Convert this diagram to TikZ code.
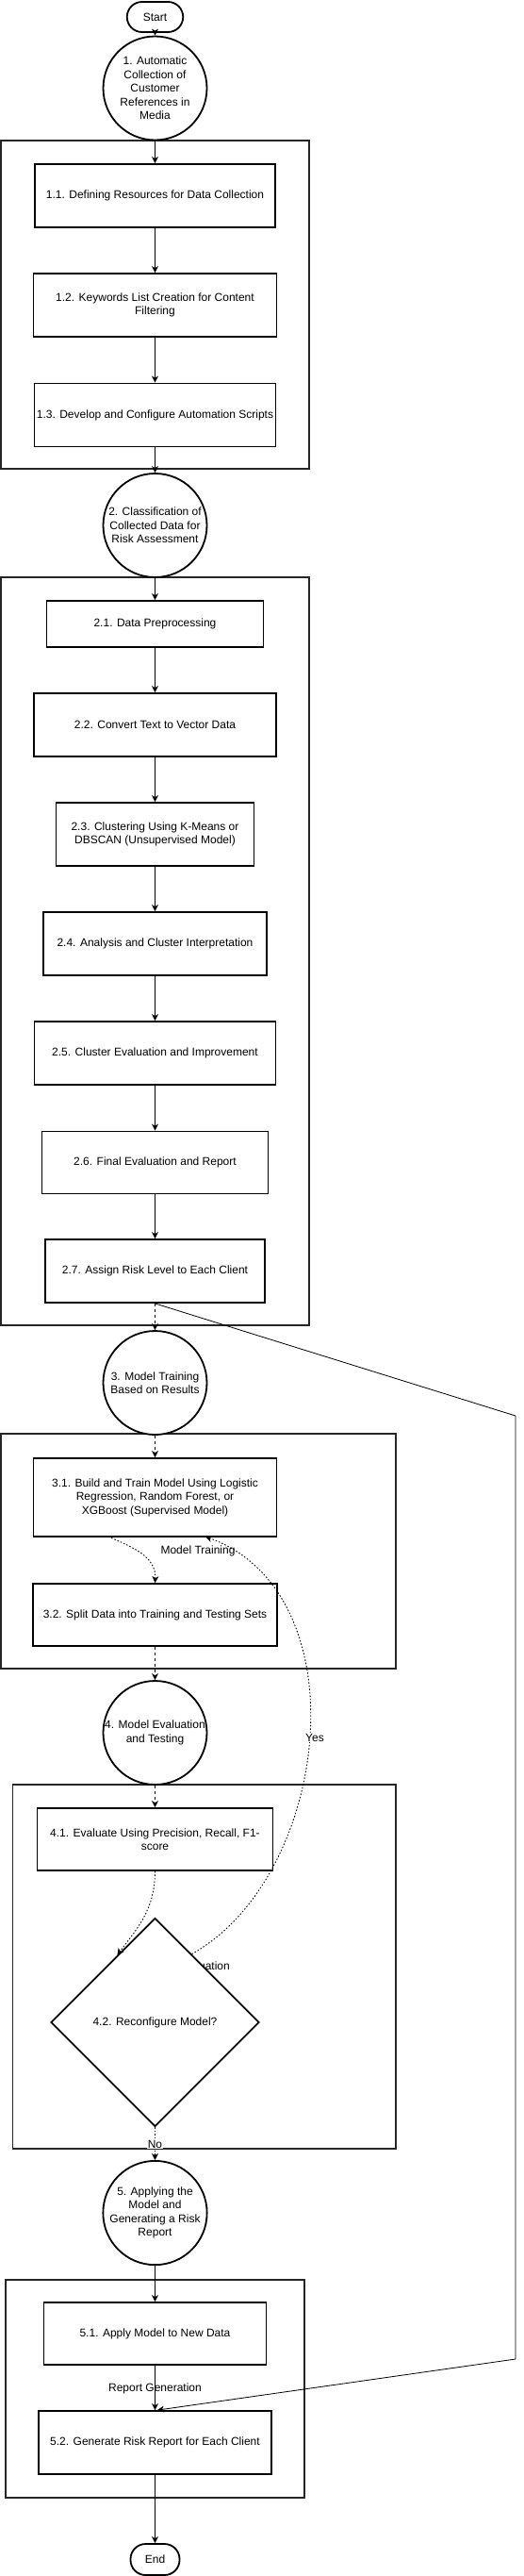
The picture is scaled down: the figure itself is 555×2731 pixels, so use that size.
\documentclass[tikz,border=0pt]{standalone}
\usepackage{fontspec}
\setmainfont{Liberation Sans}
\usetikzlibrary{shapes.geometric,arrows.meta,calc}
\begin{document}
\begin{tikzpicture}[x=1pt,y=-1pt,
  font=\fontsize{12}{14.4}\selectfont,
  box/.style={draw=black, line width=1.8pt, rectangle, align=center, inner sep=2pt, fill=white},
  grp/.style={draw=black!85, line width=1.8pt, rectangle, inner sep=0pt},
  circ/.style={draw=black, line width=1.8pt, circle, minimum size=110pt, inner sep=0pt, align=center, fill=white},
  term/.style={draw=black, line width=1.8pt, rectangle, rounded corners=16pt, align=center, inner sep=0pt, fill=white},
  conn/.style={line width=0.9pt, -{Stealth[length=7pt,width=7pt,inset=2pt]}},
  dsh/.style={conn, dash pattern=on 3pt off 3pt},
  dotc/.style={conn, dash pattern=on 1.5pt off 2pt},
  lbl/.style={inner sep=1pt, align=center}
]
\useasboundingbox (0,0) rectangle (555,2731);

% groups
\node[grp, minimum width=327pt, minimum height=348pt] (g1) at (164.5,323) {};
\node[grp, minimum width=327pt, minimum height=793pt] (g2) at (164.5,1008.5) {};
\node[grp, minimum width=419pt, minimum height=249pt] (g3) at (210.5,1644.5) {};
\node[grp, minimum width=406.5pt, minimum height=386pt] (g4) at (216.75,2085) {};
\node[grp, minimum width=317pt, minimum height=231pt] (g5) at (164.3,2532.5) {};

% terminals
\node[term, minimum width=59.5pt, minimum height=32pt] (start) at (164.5,18) {Start};
\node[term, minimum width=52pt, minimum height=33pt] (end) at (164.5,2713.5) {End};

% circles
\node[circ] (c1) at (164.5,93.5) {1. Automatic\\Collection of\\Customer\\References in\\Media};
\node[circ] (c2) at (164.5,557) {2. Classification of\\Collected Data for\\Risk Assessment};
\node[circ] (c3) at (164.5,1466) {3. Model Training\\Based on Results};
\node[circ] (c4) at (164.5,1837) {4. Model Evaluation\\and Testing};
\node[circ] (c5) at (164.5,2346) {5. Applying the\\Model and\\Generating a Risk\\Report};

% boxes
\node[box, minimum width=255pt, minimum height=67pt] (n11) at (164.5,207.5) {1.1. Defining Resources for Data Collection};
\node[box, minimum width=258pt, minimum height=67pt] (n12) at (164.5,323.5) {1.2. Keywords List Creation for Content\\Filtering};
\node[box, minimum width=256pt, minimum height=67pt] (n13) at (164.5,440) {1.3. Develop and Configure Automation Scripts};

\node[box, minimum width=230pt, minimum height=49pt] (n21) at (164.5,661.5) {2.1. Data Preprocessing};
\node[box, minimum width=257pt, minimum height=67pt] (n22) at (164.5,768.5) {2.2. Convert Text to Vector Data};
\node[box, minimum width=210pt, minimum height=67pt] (n23) at (164.5,884.5) {2.3. Clustering Using K-Means or\\DBSCAN (Unsupervised Model)};
\node[box, minimum width=237pt, minimum height=67pt] (n24) at (164.5,1000.5) {2.4. Analysis and Cluster Interpretation};
\node[box, minimum width=256pt, minimum height=67pt] (n25) at (164.5,1116.5) {2.5. Cluster Evaluation and Improvement};
\node[box, minimum width=240pt, minimum height=66pt] (n26) at (164.5,1232.5) {2.6. Final Evaluation and Report};
\node[box, minimum width=233pt, minimum height=67pt] (n27) at (164.5,1347.5) {2.7. Assign Risk Level to Each Client};

\node[box, minimum width=258pt, minimum height=83pt] (n31) at (164.5,1587.5) {3.1. Build and Train Model Using Logistic\\Regression, Random Forest, or\\XGBoost (Supervised Model)};
\node[box, minimum width=259pt, minimum height=66pt] (n32) at (164.5,1712) {3.2. Split Data into Training and Testing Sets};

\node[box, minimum width=250pt, minimum height=66pt] (n41) at (164.5,1950) {4.1. Evaluate Using Precision, Recall, F1-\\score};

\node[box, minimum width=236pt, minimum height=66pt] (n51) at (164.5,2474) {5.1. Apply Model to New Data};
\node[box, minimum width=247pt, minimum height=67pt] (n52) at (164.5,2589.5) {5.2. Generate Risk Report for Each Client};

% label hidden behind the diamond
\node[lbl, anchor=east] (levl) at (245,2084) {Model Evaluation};

% decision
\node[draw=black, line width=1.8pt, diamond, shape aspect=1, minimum width=221pt, minimum height=221pt, inner sep=0pt, fill=white, align=center] (d42) at (164.5,2144) {4.2. Reconfigure Model?};

% connectors
\draw[conn] (start.south) -- (c1.north);
\draw[conn] (c1.south) -- (n11.north);
\draw[conn] (n11.south) -- (n12.north);
\draw[conn] (n12.south) -- (n13.north);
\draw[conn] (n13.south) -- (c2.north);
\draw[conn] (c2.south) -- (n21.north);
\draw[conn] (n21.south) -- (n22.north);
\draw[conn] (n22.south) -- (n23.north);
\draw[conn] (n23.south) -- (n24.north);
\draw[conn] (n24.south) -- (n25.north);
\draw[conn] (n25.south) -- (n26.north);
\draw[conn] (n26.south) -- (n27.north);
\draw[dsh] (n27.south) -- (c3.north);

\coordinate (k1) at (547,1501);
\coordinate (k2) at (547,2501);
\draw[conn, line width=0.8pt] (n27.south) -- (k1) -- (k2) -- ([xshift=2.5pt]n52.north);

\draw[dsh] (c3.south) -- (n31.north);
\coordinate (s31) at (115,1629);
\draw[dotc] (s31) .. controls (140,1640) and (166,1650) .. (n32.north);
\node[lbl] (lmt) at (210,1644) {Model Training};
\draw[dsh] (n32.south) -- (c4.north);
\draw[dsh] (c4.south) -- (n41.north);

\coordinate (e41) at ($(d42.north)!0.36!(d42.west)$);
\draw[dotc] (n41.south) .. controls (164.5,2025) and (145,2045) .. (e41);

\coordinate (ey) at ($(d42.north)!0.35!(d42.east)$);
\coordinate (t31) at (218,1629);
\draw[dotc] (ey) .. controls (350,1990) and (385,1690) .. (t31);
\node[lbl, fill=white] (lyes) at (334,1842) {Yes};

\draw[dotc] (d42.south) -- (c5.north);
\node[lbl, fill=white] (lno) at (164.5,2273) {No};

\draw[conn] (c5.south) -- (n51.north);
\draw[conn] (n51.south) -- (n52.north);
\node[lbl] (lrg) at (164.5,2532) {Report Generation};
\draw[conn] (n52.south) -- (end.north);
\end{tikzpicture}
\end{document}
